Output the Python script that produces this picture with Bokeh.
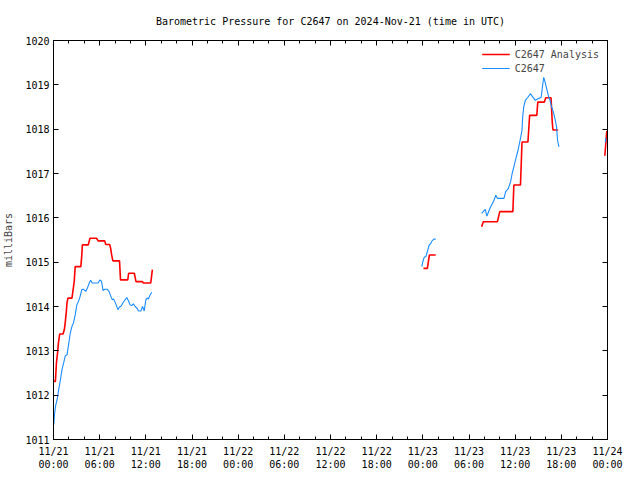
import numpy as np
from bokeh.plotting import figure
from bokeh.models import (Range1d, FixedTicker, LinearAxis, Legend, LegendItem,
                          CustomLabelingPolicy)
from bokeh.embed import file_html
from bokeh.resources import INLINE

NaN = float("nan")

TITLE = "Barometric Pressure for C2647 on 2024-Nov-21 (time in UTC)"
Y_LABEL = "milliBars"

# hours since 2024-11-21 00:00 UTC
x_major = [0, 6, 12, 18, 24, 30, 36, 42, 48, 54, 60, 66, 72]
x_labels = ["11/21\n00:00", "11/21\n06:00", "11/21\n12:00", "11/21\n18:00",
            "11/22\n00:00", "11/22\n06:00", "11/22\n12:00", "11/22\n18:00",
            "11/23\n00:00", "11/23\n06:00", "11/23\n12:00", "11/23\n18:00",
            "11/24\n00:00"]
x_minor = list(range(0, 73, 2))
y_major = [1011, 1012, 1013, 1014, 1015, 1016, 1017, 1018, 1019, 1020]

# C2647 Analysis (red)
ana_h1 = [0.0, 0.25, 0.38, 0.55, 0.64, 0.81, 1.24, 1.41, 1.54, 1.67, 1.76, 1.88, 2.40,
          2.52, 2.69, 2.82, 3.55, 3.68, 3.75, 4.52, 4.74, 5.60, 5.80, 6.66, 6.79, 7.30,
          7.43, 7.56, 7.72, 8.58, 8.71, 9.65, 9.77, 10.50, 10.72, 11.57, 11.66, 12.64, 12.85]
ana_v1 = [1012.31, 1012.31, 1012.73, 1012.99, 1013.18, 1013.38, 1013.38, 1013.48, 1013.66,
          1013.89, 1014.09, 1014.19, 1014.19, 1014.34, 1014.56, 1014.90, 1014.90, 1015.16,
          1015.39, 1015.39, 1015.54, 1015.54, 1015.48, 1015.48, 1015.40, 1015.40, 1015.31,
          1015.16, 1015.03, 1015.03, 1014.60, 1014.60, 1014.75, 1014.75, 1014.56, 1014.56,
          1014.53, 1014.53, 1014.83]
ana_h2 = [48.08, 48.59, 48.85, 49.67]
ana_v2 = [1014.86, 1014.86, 1015.16, 1015.16]
ana_h3 = [55.64, 55.86, 57.69, 58.00, 59.70, 59.83, 60.69, 60.89, 61.66, 61.88, 62.81,
          62.94, 63.80, 63.97, 64.66, 64.82, 64.91, 65.59]
ana_v3 = [1015.80, 1015.91, 1015.91, 1016.14, 1016.14, 1016.74, 1016.74, 1017.71, 1017.71,
          1018.31, 1018.31, 1018.61, 1018.61, 1018.71, 1018.71, 1018.16, 1017.98, 1017.98]
ana_h4 = [71.65, 71.91]
ana_v4 = [1017.40, 1017.96]

# C2647 observations (blue)
obs_h1 = [0.04, 0.13, 0.26, 0.47, 0.68, 0.90, 1.11, 1.32, 1.54, 1.76, 1.96, 2.18, 2.40,
          2.60, 2.82, 3.04, 3.24, 3.46, 3.68, 3.88, 4.19, 4.39, 4.65, 4.83, 5.03, 5.80,
          6.02, 6.24, 6.44, 6.66, 6.96, 7.21, 7.43, 7.65, 7.81, 7.98, 8.37, 8.58, 8.80,
          9.01, 9.22, 9.52, 9.74, 9.95, 10.16, 10.38, 10.63, 10.85, 11.06, 11.36, 11.57,
          11.79, 12.00, 12.17, 12.34, 12.52, 12.77]
obs_v1 = [1011.34, 1011.56, 1011.75, 1011.90, 1012.13, 1012.35, 1012.58, 1012.73, 1012.89,
          1012.91, 1013.14, 1013.40, 1013.55, 1013.63, 1013.81, 1014.04, 1014.11, 1014.23,
          1014.38, 1014.39, 1014.34, 1014.41, 1014.53, 1014.59, 1014.53, 1014.53, 1014.60,
          1014.57, 1014.36, 1014.39, 1014.39, 1014.34, 1014.24, 1014.15, 1014.17, 1014.11,
          1013.93, 1013.99, 1014.01, 1014.08, 1014.13, 1014.20, 1014.13, 1014.04, 1014.02,
          1014.06, 1014.00, 1013.96, 1013.90, 1013.90, 1014.00, 1013.90, 1014.15, 1014.19,
          1014.17, 1014.25, 1014.32]
obs_h2 = [47.87, 48.00, 48.17, 48.40, 48.59, 48.72, 48.85, 49.00, 49.19, 49.45, 49.67]
obs_v2 = [1014.90, 1015.01, 1015.11, 1015.13, 1015.24, 1015.32, 1015.40, 1015.41, 1015.48,
          1015.52, 1015.52]
obs_h3 = [55.64, 56.11, 56.33, 56.71, 57.27, 57.48, 57.69, 58.55, 58.76, 59.10, 59.40,
          59.61, 59.83, 60.04, 60.38, 60.69, 60.89, 60.98, 61.11, 61.33, 61.66, 61.97,
          62.61, 63.03, 63.38, 63.54, 63.71, 63.89, 64.10, 64.31, 64.53, 64.74, 64.96,
          65.17, 65.38, 65.51, 65.69]
obs_v3 = [1016.10, 1016.19, 1016.04, 1016.21, 1016.40, 1016.51, 1016.44, 1016.44, 1016.59,
          1016.66, 1016.81, 1017.00, 1017.15, 1017.30, 1017.53, 1017.79, 1017.98, 1018.28,
          1018.50, 1018.65, 1018.72, 1018.80, 1018.65, 1018.69, 1018.72, 1018.95, 1019.17,
          1019.06, 1018.91, 1018.76, 1018.65, 1018.50, 1018.39, 1018.24, 1018.05, 1017.75,
          1017.60]
obs_h4 = [71.70, 71.78]
obs_v4 = [1017.70, 1017.80]


def join(*parts):
    out = []
    for i, part in enumerate(parts):
        if i:
            out.append(NaN)
        out.extend(part)
    return np.array(out, dtype=float)


ana_x = join(ana_h1, ana_h2, ana_h3, ana_h4)
ana_y = join(ana_v1, ana_v2, ana_v3, ana_v4)
obs_x = join(obs_h1, obs_h2, obs_h3, obs_h4)
obs_y = join(obs_v1, obs_v2, obs_v3, obs_v4)

FONT = "DejaVu Sans Mono"
FS = "10px"

p = figure(width=624, height=472, output_backend="svg", toolbar_location=None,
           x_range=Range1d(0, 72), y_range=Range1d(1011, 1020),
           min_border_left=45, min_border_right=17, min_border_top=40,
           min_border_bottom=32, background_fill_color="white",
           border_fill_color="white")

p.title.text = TITLE
p.title.align = "center"
p.title.vertical_align = "bottom"
p.title.text_font = FONT
p.title.text_font_size = FS
p.title.text_font_style = "normal"
p.title.text_color = "black"
p.title.standoff = 27

p.grid.visible = False
p.outline_line_color = "black"
p.outline_line_width = 1

r_ana = p.line(ana_x, ana_y, line_color="#ff0000", line_width=1.6)
r_obs = p.line(obs_x, obs_y, line_color="#1a8cff", line_width=1.1)

HIDE_ALL = CustomLabelingPolicy(code="""
    for (const i of Array.from(indices)) indices.unset(i)
    return indices
""")


def style_axis(ax, labels=True):
    ax.axis_line_color = "black"
    ax.major_tick_line_color = "black"
    ax.minor_tick_line_color = "black"
    ax.major_tick_in = 5
    ax.major_tick_out = 0
    ax.minor_tick_in = 3
    ax.minor_tick_out = 0
    ax.major_label_text_font = FONT
    ax.major_label_text_color = "black"
    if labels:
        ax.major_label_text_font_size = FS
        ax.major_label_standoff = 6
    else:
        ax.major_label_text_font_size = "0px"
        ax.major_label_standoff = 0
        ax.major_label_policy = HIDE_ALL


xa = p.xaxis[0]
xa.ticker = FixedTicker(ticks=x_major, minor_ticks=x_minor)
xa.major_label_overrides = {h: lab for h, lab in zip(x_major, x_labels)}
style_axis(xa)
xa.major_label_standoff = 6

ya = p.yaxis[0]
ya.ticker = FixedTicker(ticks=y_major, minor_ticks=[])
style_axis(ya)
ya.major_label_standoff = 4
ya.axis_label = Y_LABEL
ya.axis_label_text_font = FONT
ya.axis_label_text_font_size = FS
ya.axis_label_text_font_style = "normal"
ya.axis_label_standoff = 8

top = LinearAxis(ticker=FixedTicker(ticks=x_major, minor_ticks=x_minor))
style_axis(top, labels=False)
p.add_layout(top, "above")

right = LinearAxis(ticker=FixedTicker(ticks=y_major, minor_ticks=[]))
style_axis(right, labels=False)
p.add_layout(right, "right")

legend = Legend(items=[LegendItem(label="C2647 Analysis", renderers=[r_ana]),
                       LegendItem(label="C2647", renderers=[r_obs])],
                location="top_right")
legend.background_fill_alpha = 0
legend.border_line_alpha = 0
legend.label_text_font = FONT
legend.label_text_font_size = FS
legend.glyph_width = 28
legend.glyph_height = 12
legend.label_height = 12
legend.spacing = 2
legend.padding = 2
legend.margin = 6
p.add_layout(legend)

open("out.html", "w").write(file_html(p, INLINE))
